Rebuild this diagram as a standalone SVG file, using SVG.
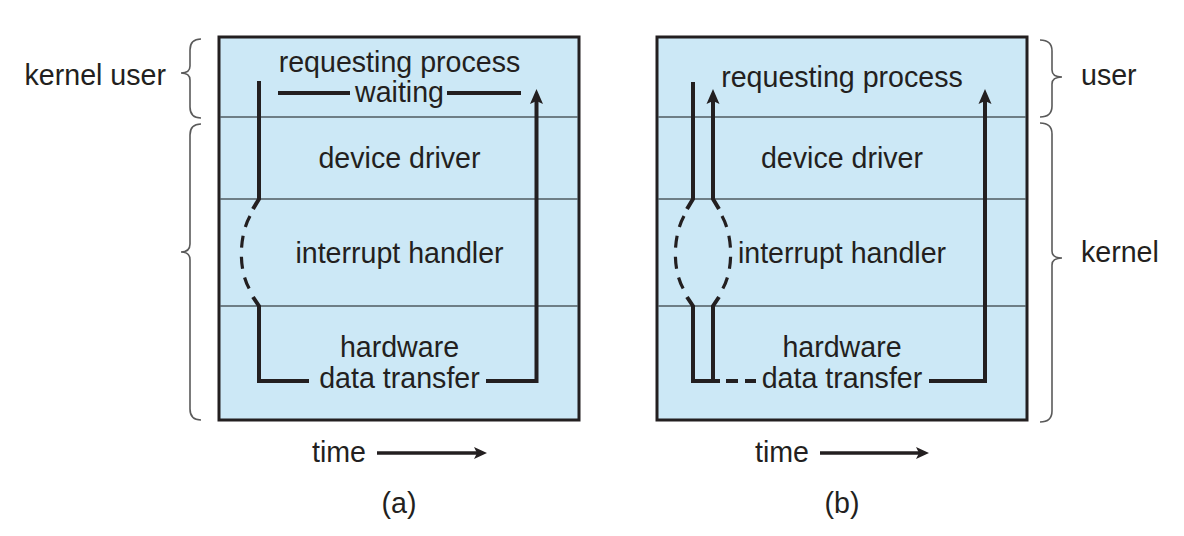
<svg xmlns="http://www.w3.org/2000/svg" width="1184" height="536" viewBox="0 0 1184 536">
  <style>
    .lbl { font-family: "Liberation Sans", Arial, sans-serif; font-size: 28.6px; fill: #231f20; }
    .mid { text-anchor: middle; }
    .box { fill: #cce8f6; stroke: #231f20; stroke-width: 3; }
    .div { stroke: #4f5b60; stroke-width: 1.6; fill: none; }
    .flow { stroke: #231f20; stroke-width: 4; fill: none; stroke-linejoin: miter; }
    .dash { stroke: #231f20; stroke-width: 3.2; fill: none; stroke-dasharray: 12 9; }
    .brace { stroke: #5a5a5a; stroke-width: 1.6; fill: none; }
    .head { fill: #231f20; }
  </style>
  <rect width="1184" height="536" fill="#ffffff"/>

  <g id="panel-a">
    <rect class="box" x="219" y="37" width="360" height="383"/>
    <line class="div" x1="220" y1="117" x2="578" y2="117"/>
    <line class="div" x1="220" y1="199" x2="578" y2="199"/>
    <line class="div" x1="220" y1="306" x2="578" y2="306"/>
    <text class="lbl mid" x="399.5" y="72">requesting process</text>
    <text class="lbl mid" x="399.5" y="102">waiting</text>
    <text class="lbl mid" x="399.5" y="168">device driver</text>
    <text class="lbl mid" x="399.5" y="263">interrupt handler</text>
    <text class="lbl mid" x="399.5" y="357">hardware</text>
    <text class="lbl mid" x="399.5" y="388">data transfer</text>
  </g>

  <g id="panel-b">
    <rect class="box" x="657" y="37" width="370" height="383"/>
    <line class="div" x1="658" y1="117" x2="1026" y2="117"/>
    <line class="div" x1="658" y1="199" x2="1026" y2="199"/>
    <line class="div" x1="658" y1="306" x2="1026" y2="306"/>
    <text class="lbl mid" x="842" y="87">requesting process</text>
    <text class="lbl mid" x="842" y="168">device driver</text>
    <text class="lbl mid" x="842" y="263">interrupt handler</text>
    <text class="lbl mid" x="842" y="357">hardware</text>
    <text class="lbl mid" x="842" y="388">data transfer</text>
  </g>

  <g id="braces">
    <path class="brace" d="M201,39 Q190,39 190,50 L190,66 Q190,73 181,73 Q190,73 190,80 L190,107 Q190,118 201,118"/>
    <path class="brace" d="M201,124 Q190,124 190,135 L190,244 Q190,252 181,252 Q190,252 190,260 L190,409 Q190,420 201,420"/>
    <path class="brace" d="M1040,40 Q1052,40 1052,51 L1052,70 Q1052,77 1062,77 Q1052,77 1052,84 L1052,106 Q1052,117 1040,117"/>
    <path class="brace" d="M1040,123 Q1052,123 1052,134 L1052,251 Q1052,258 1062,258 Q1052,258 1052,265 L1052,411 Q1052,422 1040,422"/>
    <text class="lbl" x="166" y="84.5" text-anchor="end">kernel user</text>
    <text class="lbl" x="1081" y="84.5">user</text>
    <text class="lbl" x="1081" y="262">kernel</text>
  </g>

  <g id="connectors">
    <!-- panel a -->
    <line class="flow" x1="278" y1="93" x2="350" y2="93"/>
    <line class="flow" x1="447" y1="93" x2="521" y2="93"/>
    <polyline class="flow" points="259,81 259,199 253,209"/>
    <path class="dash" d="M250,216 C239,236 238,270 250,290"/>
    <polyline class="flow" points="253,297 259,306 259,381 309,381"/>
    <polyline class="flow" points="486,381 536.5,381 536.5,101"/>
    <polygon class="head" points="536.5,89 543,104 536.5,101 530,104"/>

    <!-- panel b -->
    <polyline class="flow" points="693,82 693,199 687,209"/>
    <polyline class="flow" points="713,101 713,199 719,209"/>
    <polygon class="head" points="713,89 719.5,104 713,101 706.5,104"/>
    <path class="dash" d="M684,216 C673,236 672,270 684,290"/>
    <path class="dash" d="M722,216 C733,236 734,270 722,290"/>
    <polyline class="flow" points="687,297 693,306 693,381 720,381"/>
    <polyline class="flow" points="719,297 713,306 713,381"/>
    <line class="flow" x1="726" y1="381" x2="738" y2="381"/>
    <line class="flow" x1="745" y1="381" x2="756" y2="381"/>
    <polyline class="flow" points="929,381 985,381 985,101"/>
    <polygon class="head" points="985,89 991.5,104 985,101 978.5,104"/>
  </g>

  <g id="time-a">
    <text class="lbl" x="312" y="462">time</text>
    <line x1="377" y1="453" x2="479" y2="453" stroke="#231f20" stroke-width="3.5"/>
    <polygon class="head" points="487,453 474,447 477,453 474,459"/>
    <text class="lbl mid" x="399" y="513">(a)</text>
  </g>
  <g id="time-b">
    <text class="lbl" x="755" y="462">time</text>
    <line x1="820" y1="453" x2="921" y2="453" stroke="#231f20" stroke-width="3.5"/>
    <polygon class="head" points="929,453 916,447 919,453 916,459"/>
    <text class="lbl mid" x="842" y="513">(b)</text>
  </g>
</svg>
